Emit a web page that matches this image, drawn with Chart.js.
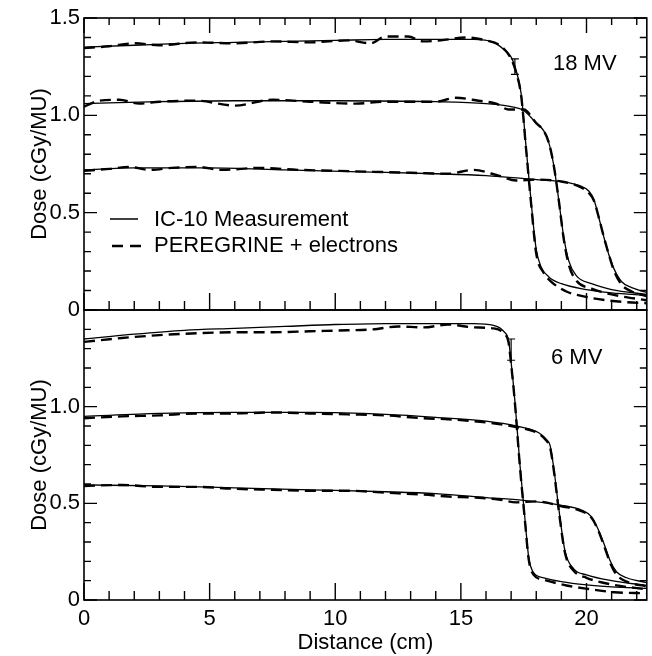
<!DOCTYPE html>
<html>
<head>
<meta charset="utf-8">
<script src="https://cdn.jsdelivr.net/npm/chart.js@4.4.1/dist/chart.umd.min.js"></script>
<style>
  body { margin: 0; background: #fff; font-family: 'Liberation Sans', Arial, sans-serif; }
  #wrap { position: relative; width: 652px; height: 656px; overflow: hidden; }
  #topBox { position: absolute; left: 0; top: 0; width: 652px; height: 340px; }
  #botBox { position: absolute; left: 0; top: 290px; width: 652px; height: 366px; }
  .lbl { position: absolute; font-size: 22px; line-height: 22px; color: #000; white-space: nowrap; }
</style>
</head>
<body>
<div id="wrap">
  <div id="topBox"><canvas id="topChart"></canvas></div>
  <div id="botBox"><canvas id="botChart"></canvas></div>
  <div class="lbl" style="left:553px;top:52px">18 MV</div>
  <div class="lbl" style="left:551px;top:346px">6 MV</div>
  <svg style="position:absolute;left:108px;top:210px" width="40" height="44">
    <line x1="2" y1="9" x2="30" y2="9" stroke="#000" stroke-width="1.5"/>
    <line x1="4" y1="36" x2="34" y2="36" stroke="#000" stroke-width="2.4" stroke-dasharray="11,7"/>
  </svg>
  <div class="lbl" style="left:154px;top:208px">IC-10 Measurement</div>
  <div class="lbl" style="left:154px;top:234px">PEREGRINE + electrons</div>
</div>
<script>
// axis ticks
const xTicks = [0, 5, 10, 15, 20];
const yTicksTop = [0, 0.5, 1.0, 1.5];
const yTicksBot = [0, 0.5, 1.0];

// 18 MV - measurement (solid)
const sA18x = [0, 2, 4, 6, 8, 10, 12, 14, 15.5, 16.3, 16.7, 17.0, 17.2, 17.4, 17.6, 17.8, 18.0, 18.2, 18.5, 19, 20, 21, 22.4];
const sA18y = [1.35, 1.36, 1.37, 1.375, 1.38, 1.385, 1.39, 1.39, 1.39, 1.375, 1.34, 1.30, 1.23, 1.11, 0.83, 0.55, 0.31, 0.22, 0.17, 0.135, 0.105, 0.088, 0.075];
const sB18x = [0, 3, 6, 10, 14, 16, 17, 17.5, 18.0, 18.3, 18.5, 18.7, 18.9, 19.1, 19.3, 19.6, 20.2, 21, 22.4];
const sB18y = [1.06, 1.07, 1.075, 1.075, 1.07, 1.06, 1.045, 1.025, 0.96, 0.92, 0.86, 0.74, 0.56, 0.37, 0.25, 0.175, 0.135, 0.105, 0.08];
const sC18x = [0, 2, 5, 8, 11, 14, 16, 18, 19, 19.7, 20.1, 20.3, 20.5, 20.7, 20.9, 21.1, 21.4, 21.8, 22.4];
const sC18y = [0.72, 0.73, 0.73, 0.72, 0.71, 0.70, 0.69, 0.67, 0.66, 0.64, 0.61, 0.565, 0.47, 0.37, 0.28, 0.21, 0.145, 0.115, 0.09];

// 18 MV - PEREGRINE (dashed)
const dA18x = [0, 1, 2, 3, 4.5, 6, 7.5, 9, 10.5, 11.4, 12, 12.9, 13.5, 14.2, 15.2, 16, 16.6, 17.0, 17.2, 17.4, 17.6, 17.8, 18.0, 18.3, 18.6, 19.2, 20, 20.8, 21.6, 22.4];
const dA18y = [1.345, 1.355, 1.37, 1.36, 1.375, 1.37, 1.38, 1.375, 1.385, 1.37, 1.405, 1.405, 1.38, 1.385, 1.40, 1.385, 1.355, 1.29, 1.22, 1.10, 0.82, 0.54, 0.29, 0.19, 0.145, 0.095, 0.067, 0.05, 0.04, 0.035];
const dB18x = [0, 0.6, 1.4, 2.2, 3, 4.5, 6, 7.5, 9, 10.8, 12, 14, 14.8, 15.7, 16.4, 16.9, 17.5, 18.0, 18.3, 18.5, 18.7, 18.9, 19.1, 19.3, 19.6, 20.2, 21, 22.4];
const dB18y = [1.045, 1.075, 1.08, 1.06, 1.07, 1.075, 1.05, 1.08, 1.07, 1.06, 1.07, 1.07, 1.09, 1.075, 1.06, 1.03, 1.03, 0.96, 0.92, 0.86, 0.74, 0.56, 0.36, 0.23, 0.15, 0.11, 0.08, 0.05];
const dC18x = [0, 1, 1.8, 2.6, 3.5, 4.5, 5.5, 7, 8.5, 10, 11.5, 13, 14.5, 15.5, 16.5, 17.2, 18, 19, 19.7, 20.1, 20.3, 20.5, 20.7, 20.9, 21.1, 21.4, 21.8, 22.4];
const dC18y = [0.715, 0.725, 0.735, 0.72, 0.73, 0.735, 0.72, 0.73, 0.72, 0.715, 0.71, 0.705, 0.70, 0.72, 0.69, 0.665, 0.67, 0.66, 0.635, 0.60, 0.56, 0.47, 0.37, 0.28, 0.20, 0.13, 0.095, 0.07];

// 6 MV - measurement (solid)
const sA6x = [0, 2, 4, 6, 8, 10, 12, 14, 15.5, 16.3, 16.7, 16.9, 17.0, 17.15, 17.35, 17.55, 17.7, 17.9, 18.3, 19, 20, 21, 22.4];
const sA6y = [1.35, 1.375, 1.395, 1.405, 1.415, 1.425, 1.43, 1.43, 1.43, 1.42, 1.39, 1.34, 1.23, 1.03, 0.70, 0.42, 0.22, 0.14, 0.115, 0.095, 0.078, 0.068, 0.06];
const sB6x = [0, 3, 6, 9, 12, 14, 16, 17.2, 18.1, 18.4, 18.55, 18.7, 18.9, 19.15, 19.5, 20, 21, 22.4];
const sB6y = [0.95, 0.965, 0.97, 0.97, 0.96, 0.945, 0.925, 0.90, 0.865, 0.83, 0.80, 0.68, 0.47, 0.25, 0.16, 0.13, 0.10, 0.075];
const sC6x = [0, 3, 6, 9, 12, 14, 16, 17.5, 19, 19.8, 20.2, 20.45, 20.7, 20.95, 21.2, 21.6, 22.4];
const sC6y = [0.595, 0.59, 0.58, 0.57, 0.56, 0.55, 0.53, 0.515, 0.49, 0.465, 0.43, 0.37, 0.29, 0.20, 0.145, 0.115, 0.09];

// 6 MV - PEREGRINE (dashed)
const dA6x = [0, 1.5, 3, 4.5, 6, 7.5, 9, 10.5, 11.5, 12.5, 13.5, 14.5, 15.5, 16.3, 16.7, 16.9, 17.0, 17.15, 17.35, 17.55, 17.7, 17.9, 18.3, 19.2, 20.2, 21.1, 22.4];
const dA6y = [1.335, 1.355, 1.37, 1.38, 1.385, 1.385, 1.39, 1.395, 1.40, 1.415, 1.41, 1.425, 1.41, 1.405, 1.38, 1.33, 1.22, 1.02, 0.69, 0.41, 0.21, 0.13, 0.105, 0.075, 0.055, 0.04, 0.035];
const dB6x = [0, 1.5, 3, 4.5, 6, 7.5, 9, 10.5, 12, 13.5, 14.5, 15.5, 16.5, 17.2, 18.1, 18.4, 18.55, 18.7, 18.9, 19.15, 19.5, 20, 21, 22.4];
const dB6y = [0.94, 0.95, 0.955, 0.965, 0.965, 0.97, 0.965, 0.96, 0.955, 0.94, 0.935, 0.925, 0.91, 0.895, 0.86, 0.825, 0.79, 0.67, 0.46, 0.24, 0.15, 0.115, 0.08, 0.055];
const dC6x = [0, 1.5, 3, 4.5, 6, 7.5, 9, 10.5, 12, 13.5, 14.5, 15.5, 16.5, 17.2, 18, 19, 19.8, 20.2, 20.45, 20.7, 20.95, 21.2, 21.6, 22.4];
const dC6y = [0.59, 0.595, 0.585, 0.585, 0.575, 0.57, 0.565, 0.565, 0.555, 0.545, 0.535, 0.53, 0.52, 0.505, 0.51, 0.485, 0.46, 0.425, 0.365, 0.28, 0.19, 0.13, 0.095, 0.07];

// error bars at the shoulder
const err18x = [17.15, 17.15];
const err18y = [1.21, 1.29];
const err6x = [17.0, 17.0];
const err6y = [1.24, 1.35];

const FONT = "'Liberation Sans', Arial, sans-serif";
const pts = (xs, ys) => xs.map((x, i) => ({ x, y: ys[i] }));

function solid(xs, ys) {
  return { data: pts(xs, ys), borderColor: '#000', borderWidth: 1.3, pointRadius: 0, cubicInterpolationMode: 'monotone', fill: false };
}
function dashed(xs, ys) {
  return { data: pts(xs, ys), borderColor: '#000', borderWidth: 2.4, borderDash: [11, 6], pointRadius: 0, cubicInterpolationMode: 'monotone', fill: false };
}
function errBar(xs, ys) {
  return { data: pts(xs, ys), borderColor: '#000', borderWidth: 1.2, pointStyle: 'line', pointRadius: 4, pointBorderWidth: 1.2, pointBorderColor: '#000', fill: false };
}

// frame + inward ticks (the lower panel has none along its top edge)
function frameTicks(withTopTicks) {
  return {
    id: 'frameTicks',
    afterDraw(chart) {
      const { ctx, chartArea: a, scales: { x, y } } = chart;
      ctx.save();
      ctx.strokeStyle = '#000';
      ctx.lineWidth = 1.6;
      ctx.strokeRect(a.left, a.top, a.right - a.left, a.bottom - a.top);
      ctx.lineWidth = 1.4;
      ctx.beginPath();
      for (let i = 0; i <= 22; i++) {
        const px = x.getPixelForValue(i);
        const len = i % 5 === 0 ? 17 : 9;
        ctx.moveTo(px, a.bottom); ctx.lineTo(px, a.bottom - len);
        if (withTopTicks) { ctx.moveTo(px, a.top); ctx.lineTo(px, a.top + (i % 5 === 0 ? 15 : 7)); }
      }
      for (let i = 0; i <= 15; i++) {
        const py = y.getPixelForValue(i / 10);
        const len = i % 5 === 0 ? 13 : 7;
        ctx.moveTo(a.left, py); ctx.lineTo(a.left + len, py);
        ctx.moveTo(a.right, py); ctx.lineTo(a.right - len, py);
      }
      ctx.stroke();
      ctx.restore();
    }
  };
}

function makeOptions(isBottom) {
  const yTicks = isBottom ? yTicksBot : yTicksTop;
  return {
    responsive: true, maintainAspectRatio: false, animation: false,
    layout: { padding: isBottom ? { left: 0, right: 5, top: 20, bottom: 0 } : { left: 0, right: 5, top: 18, bottom: 30 } },
    plugins: { legend: { display: false }, tooltip: { enabled: false } },
    scales: {
      x: {
        type: 'linear', min: 0, max: 22.4, display: isBottom,
        afterBuildTicks: s => { s.ticks = xTicks.map(v => ({ value: v })); },
        afterFit: s => { s.height = isBottom ? 56 : 0; },
        grid: { display: false, drawTicks: false }, border: { display: false },
        ticks: { color: '#000', padding: 6, maxRotation: 0, font: { family: FONT, size: 22 } },
        title: { display: true, text: 'Distance (cm)', color: '#000', padding: { top: 0, bottom: 0 }, font: { family: FONT, size: 22 } }
      },
      y: {
        type: 'linear', min: 0, max: 1.5,
        afterBuildTicks: s => { s.ticks = yTicks.map(v => ({ value: v })); },
        afterFit: s => { s.width = 84; },
        grid: { display: false, drawTicks: false }, border: { display: false },
        ticks: { color: '#000', padding: 4, callback: v => v === 0 ? '0' : v.toFixed(1), font: { family: FONT, size: 22 } },
        title: { display: true, text: 'Dose (cGy/MU)', color: '#000', padding: { top: 27, bottom: 0 }, font: { family: FONT, size: 22 } }
      }
    }
  };
}

new Chart(document.getElementById('topChart'), {
  type: 'line',
  data: {
    datasets: [
      solid(sA18x, sA18y), solid(sB18x, sB18y), solid(sC18x, sC18y),
      dashed(dA18x, dA18y), dashed(dB18x, dB18y), dashed(dC18x, dC18y),
      errBar(err18x, err18y)
    ]
  },
  options: makeOptions(false),
  plugins: [frameTicks(true)]
});

new Chart(document.getElementById('botChart'), {
  type: 'line',
  data: {
    datasets: [
      solid(sA6x, sA6y), solid(sB6x, sB6y), solid(sC6x, sC6y),
      dashed(dA6x, dA6y), dashed(dB6x, dB6y), dashed(dC6x, dC6y),
      errBar(err6x, err6y)
    ]
  },
  options: makeOptions(true),
  plugins: [frameTicks(false)]
});
</script>
</body>
</html>
